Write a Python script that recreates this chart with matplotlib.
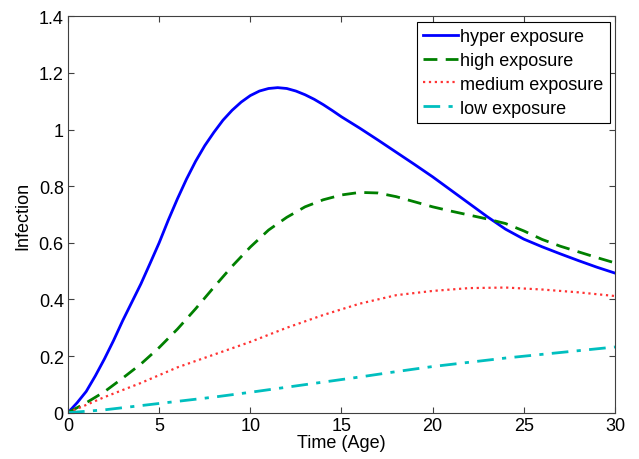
import numpy as np
import matplotlib
matplotlib.use('Agg')
import matplotlib.pyplot as plt

plt.rcParams['font.family'] = ['Liberation Sans', 'DejaVu Sans']
plt.rcParams['font.size'] = 13

# tiempo (edad) y curvas de infeccion
t_hyper = [0, 0.5, 1, 1.5, 2, 2.5, 3, 3.5, 4, 4.5, 5, 5.5, 6, 6.5, 7, 7.5,
           8, 8.5, 9, 9.5, 10, 10.5, 11, 11.5, 12, 12.5, 13, 13.5, 14, 14.5,
           15, 16, 17, 18, 19, 20, 21, 22, 23, 24, 25, 26, 27, 28, 29, 30]
hyper = [0, 0.035, 0.075, 0.13, 0.19, 0.255, 0.325, 0.39, 0.455, 0.527,
         0.6, 0.68, 0.755, 0.825, 0.888, 0.943, 0.99, 1.033, 1.068, 1.097,
         1.12, 1.136, 1.145, 1.148, 1.145, 1.136, 1.123, 1.107, 1.088, 1.067,
         1.045, 1.005, 0.963, 0.92, 0.877, 0.833, 0.786, 0.739, 0.692, 0.648,
         0.613, 0.586, 0.561, 0.537, 0.514, 0.493]

t_high = list(range(0, 31))
high = [0, 0.035, 0.074, 0.122, 0.172, 0.23, 0.295, 0.367, 0.443, 0.517,
        0.585, 0.645, 0.69, 0.727, 0.752, 0.769, 0.778, 0.776, 0.763, 0.745,
        0.727, 0.712, 0.698, 0.684, 0.668, 0.642, 0.612, 0.588, 0.568, 0.548,
        0.529]

t_low = list(range(0, 31, 2))
medium = [0, 0.055, 0.105, 0.16, 0.205, 0.25, 0.3, 0.345, 0.385, 0.415,
          0.43, 0.44, 0.442, 0.435, 0.425, 0.412]
low = [0, 0.01, 0.025, 0.04, 0.055, 0.072, 0.09, 0.108, 0.126, 0.145,
       0.163, 0.178, 0.193, 0.206, 0.219, 0.232]

fig = plt.figure(figsize=(6.39, 4.6), dpi=100)
ax = fig.add_axes([0.1064, 0.1007, 0.856, 0.8617])

ax.plot(t_hyper, hyper, '-', color=(0, 0, 1), lw=2, label='hyper exposure')
ax.plot(t_high, high, '--', color=(0, 0.5, 0), lw=2, dashes=(5, 3), label='high exposure')
ax.plot(t_low, medium, ':', color=(1, 0.2, 0.2), lw=1.6, label='medium exposure')
ax.plot(t_low, low, '-.', color=(0, 0.75, 0.75), lw=2, dashes=(6, 3, 1.5, 3), label='low exposure')

ax.set_xlim(0, 30)
ax.set_ylim(0, 1.4)
ax.set_xticks([0, 5, 10, 15, 20, 25, 30])
ax.set_yticks([0, 0.2, 0.4, 0.6, 0.8, 1.0, 1.2, 1.4])
ax.set_yticklabels(['0', '0.2', '0.4', '0.6', '0.8', '1', '1.2', '1.4'])
ax.tick_params(direction='in', top=True, right=True, length=4, width=0.8, colors='#404040', labelcolor='black', pad=3)
for s in ax.spines.values():
    s.set_color('#404040')
    s.set_linewidth(0.8)

ax.set_xlabel('Time (Age)', labelpad=0)
ax.set_ylabel('Infection', labelpad=5)

leg = ax.legend(loc='upper right', fancybox=False, framealpha=1, edgecolor='black',
                handlelength=1.95, handletextpad=0.1, borderpad=0.35, labelspacing=0.38,
                borderaxespad=0.3)
leg.get_frame().set_linewidth(0.8)

plt.savefig('out.png', dpi=100)
